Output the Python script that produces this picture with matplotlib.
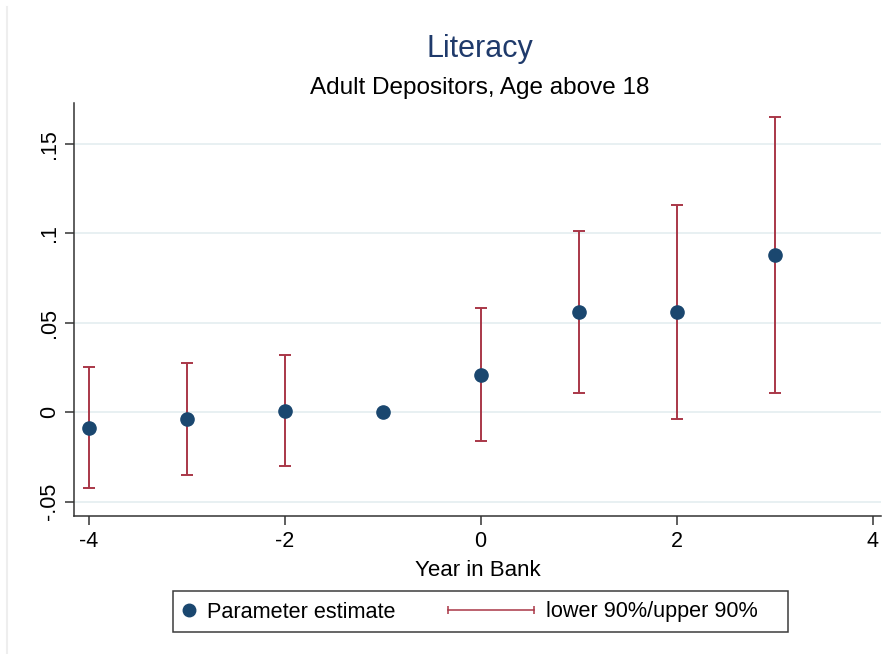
import numpy as np
import matplotlib
matplotlib.use('Agg')
import matplotlib.pyplot as plt
from matplotlib.lines import Line2D
from matplotlib.patches import Rectangle
from matplotlib.legend_handler import HandlerBase

plt.rcParams['font.family'] = ['Liberation Sans', 'DejaVu Sans']
plt.rcParams['axes.unicode_minus'] = False

# 数据
years = [-4, -3, -2, -1, 0, 1, 2, 3]
estimate = [-0.0086, -0.0039, 0.0009, 0.0, 0.0210, 0.0562, 0.0562, 0.0879]
lower90 = [-0.0422, -0.0351, -0.0299, np.nan, -0.0160, 0.0110, -0.0036, 0.0108]
upper90 = [0.0255, 0.0277, 0.0319, np.nan, 0.0581, 0.1015, 0.1159, 0.1653]

xticks = [-4, -2, 0, 2, 4]
yticks = [-0.05, 0, 0.05, 0.1, 0.15]
ytick_labels = ['-.05', '0', '.05', '.1', '.15']

navy = '#1a476f'
maroon = '#a93747'
grid_col = '#e2ecef'
axis_col = '#333333'

W, H = 883, 654
fig = plt.figure(figsize=(W / 100, H / 100), dpi=100)
ax = fig.add_axes([74 / W, (H - 516) / H, (881 - 74) / W, (516 - 103.3) / H])

# 误差棒 (跳过没有区间的基准年)
x = np.array(years, dtype=float)
est = np.array(estimate)
lo = np.array(lower90)
hi = np.array(upper90)
ok = ~np.isnan(lo)
ax.errorbar(x[ok], est[ok], yerr=[est[ok] - lo[ok], hi[ok] - est[ok]],
            fmt='none', ecolor=maroon, elinewidth=1.4, capsize=4.2,
            capthick=1.4, zorder=2)
ax.plot(x, est, 'o', color=navy, markersize=9.5, zorder=3)

ax.set_xlim(-4.15, 4.085)
ax.set_ylim(-0.058, 0.1728)
ax.set_xticks(xticks)
ax.set_yticks(yticks, ytick_labels)
for lbl in ax.get_yticklabels():
    lbl.set_rotation(90)
    lbl.set_va('center')

ax.grid(axis='y', color=grid_col, lw=1.1)
ax.set_axisbelow(True)
for s in ['top', 'right']:
    ax.spines[s].set_visible(False)
for s in ['left', 'bottom']:
    ax.spines[s].set_color(axis_col)
    ax.spines[s].set_linewidth(1.1)
ax.tick_params(axis='both', direction='out', length=6.5, width=1.1,
               color=axis_col, labelsize=15.5)
ax.tick_params(axis='y', pad=3.5)
ax.tick_params(axis='x', pad=4)
ax.set_xlabel('Year in Bank', fontsize=16, labelpad=6)

# 标题
fig.text(480 / W, 1 - 57 / H, 'Literacy', ha='center', va='baseline',
         fontsize=22, color='#1f3a6b')
fig.text(480 / W, 1 - 94 / H, 'Adult Depositors, Age above 18',
         ha='center', va='baseline', fontsize=17.5, color='black')


# 图例中的横向误差棒
class HandlerCI(HandlerBase):
    def create_artists(self, legend, orig_handle, xdescent, ydescent,
                       width, height, fontsize, trans):
        y = height / 2 - ydescent
        x1 = width - xdescent - 3.7
        x0 = x1 - 62
        line = Line2D([x0, x1], [y, y], color=maroon, lw=1.1,
                      marker='|', markersize=5.8, markeredgewidth=1.1)
        line.set_transform(trans)
        return [line]


h_est = Line2D([], [], ls='none', marker='o', color=navy, markersize=9)
h_ci = Line2D([], [], color=maroon)
leg = fig.legend([h_est, h_ci], ['Parameter estimate', 'lower 90%/upper 90%'],
                 handler_map={h_ci: HandlerCI()}, ncol=2, frameon=False,
                 loc='center left', bbox_to_anchor=(177.8 / W, (H - 612) / H),
                 fontsize=15.6, handlelength=1.0, handletextpad=0.34,
                 columnspacing=5.62, borderpad=0, borderaxespad=0)

# 图例外框
fig.patches.append(Rectangle((172.7 / W, (H - 631.7) / H), (788 - 172.7) / W,
                             (631.7 - 591) / H, transform=fig.transFigure,
                             fill=False, ec='#3c3c3c', lw=1.1))
# 左侧浅色边线
fig.lines.append(Line2D([7.5 / W, 7.5 / W], [0, 1 - 7 / H],
                        transform=fig.transFigure, color='#eeeeee', lw=1.5))

fig.savefig('out.png', dpi=100, facecolor='white')
